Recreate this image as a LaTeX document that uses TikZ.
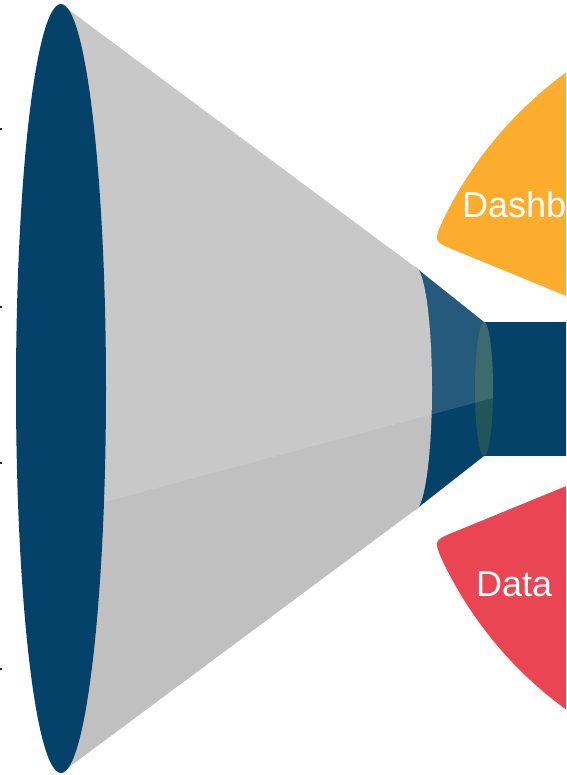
\documentclass[tikz,border=0pt]{standalone}
\usepackage{fontspec}
\setmainfont{Liberation Sans}
\usetikzlibrary{calc}
\definecolor{funnelblue}{RGB}{5,66,106}
\definecolor{conegray}{RGB}{192,192,192}
\definecolor{dashorange}{RGB}{252,173,45}
\definecolor{datared}{RGB}{234,69,83}
\definecolor{neckgreen}{RGB}{85,125,60}
\definecolor{tickdark}{RGB}{40,40,40}
\tikzset{
  petaltext/.style={anchor=base west, inner sep=0pt, text=white, font=\fontsize{36}{40}\selectfont},
  tickdot/.style={fill=tickdark, draw=none},
}
\begin{document}
\begin{tikzpicture}[x=1pt,y=1pt]
\useasboundingbox (0,0) rectangle (566,-775);
\clip (0,0) rectangle (566,-775);
% centre of the petals
\coordinate (C) at (798,-391);
% orange petal
\fill[dashorange] (C) -- ($(C)+(157.7:371)$) .. controls ($(C)+(157.7:394)$) .. ($(C)+(154.35:394)$)
  arc[start angle=154.35, end angle=95, radius=394] -- cycle;
% red petal
\fill[datared] (C) -- ($(C)+(202.3:371)$) .. controls ($(C)+(202.3:394)$) .. ($(C)+(205.65:394)$)
  arc[start angle=205.65, end angle=265, radius=394] -- cycle;
\node[petaltext] (dash) at (462,-218) {Dashboard};
\node[petaltext] (data) at (476,-596) {Data};
% blue neck of the funnel
\fill[funnelblue] (415,-267) -- (484,-322) -- (484,-456) -- (415,-510) -- cycle;
\fill[funnelblue] (484,-322) rectangle (570,-456);
% gray cone
\fill[conegray] (61,-4) -- (415,-267) arc[start angle=90, end angle=-90, x radius=17, y radius=121.5] -- (61,-773) -- cycle;
% small ellipse at the neck
\fill[neckgreen, fill opacity=0.35] (484,-389) ellipse[x radius=9, y radius=67];
% mouth of the funnel
\fill[funnelblue] (61,-388.5) ellipse[x radius=45, y radius=384.5];
% highlight
\fill[white, fill opacity=0.13] (61,-4) -- (415,-267) -- (484,-322)
  arc[start angle=90, end angle=-7.7, x radius=9, y radius=67] -- (104,-502.2)
  arc[start angle=-17.2, end angle=90, x radius=45, y radius=384.5] -- cycle;
% tick marks at the left edge
\fill[tickdot] (0,-128) rectangle (2,-130);
\fill[tickdot] (0,-306) rectangle (2,-308);
\fill[tickdot] (0,-462) rectangle (2,-464);
\fill[tickdot] (0,-668) rectangle (2,-670);
\end{tikzpicture}
\end{document}
